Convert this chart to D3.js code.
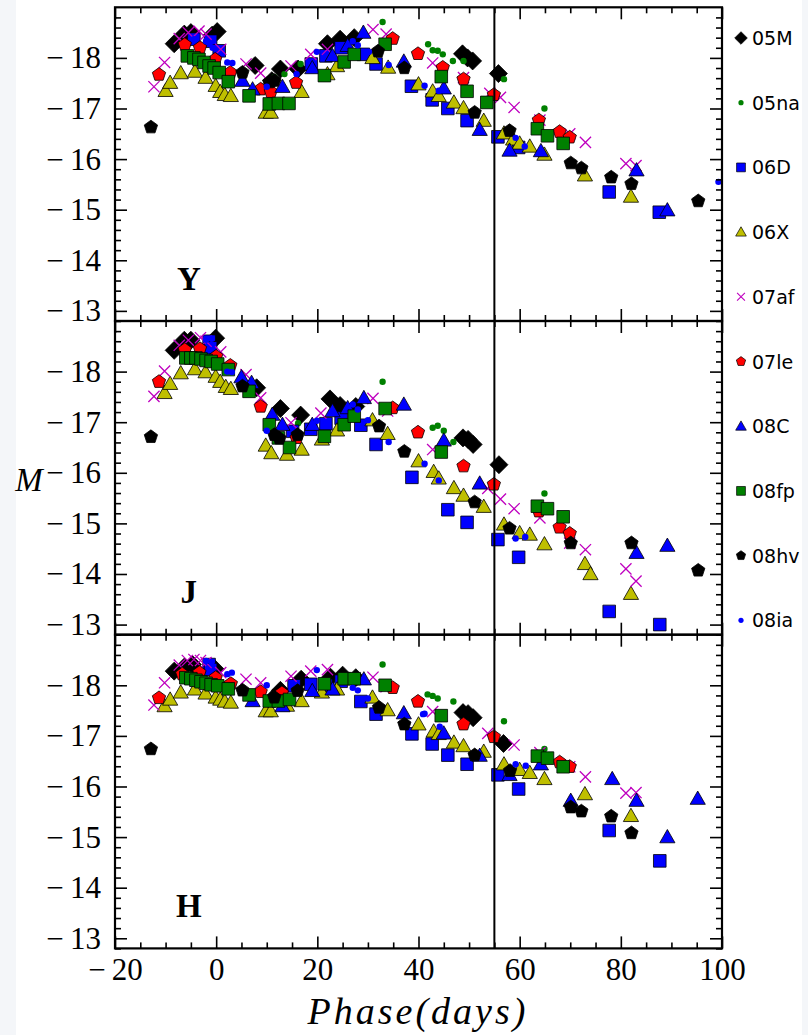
<!DOCTYPE html>
<html><head><meta charset="utf-8">
<script src="https://cdn.jsdelivr.net/npm/d3@7"></script>
<style>
html,body{margin:0;padding:0;background:#f4f6f9;}
svg{display:block;}
</style></head>
<body>
<svg id="chart" width="808" height="1035"></svg>
<script>
// ---------- data ----------
const bands = ["Y", "J", "H"];
const snNames = ["05M","05na","06D","06X","07af","07le","08C","08fp","08hv","08ia"];
const xTicks = [-20, 0, 20, 40, 60, 80, 100];
const yTicks = [-18, -17, -16, -15, -14, -13];
const splitPhase = 55;

// Y band
const Y_05M = [[-8.3,-18.28],[-6.3,-18.47],[-5.0,-18.5],[-0.8,-18.45],[0.2,-18.52],[7.7,-17.85],[11.0,-17.55],[12.7,-17.78],[16.2,-17.78],[22.0,-18.28],[24.5,-18.37],[27.3,-18.4],[48.7,-18.08],[49.7,-18.0],[50.7,-17.94],[55.8,-17.69]];
const Y_05na = [[11.5,-17.62],[13.5,-17.68],[16.7,-17.88],[32.9,-18.71],[41.9,-18.27],[42.8,-18.15],[43.8,-18.14],[44.8,-18.07],[46.8,-17.94],[48.9,-17.94],[56.9,-17.58],[64.9,-17.0]];
const Y_06D = [[-4.4,-18.37],[-1.1,-18.33],[0.6,-18.14],[18.8,-17.88],[21.7,-18.04],[24.7,-18.2],[29.1,-18.07],[31.6,-17.88],[38.6,-17.44],[42.7,-17.17],[45.8,-17.0],[49.6,-16.76],[55.7,-16.44],[59.8,-16.23],[77.7,-15.35],[87.6,-14.95]];
const Y_06X = [[-10,-17.35],[-9.1,-17.51],[-7,-17.7],[-4.2,-17.73],[-2.1,-17.61],[-0.1,-17.45],[0.8,-17.33],[1.7,-17.27],[2.9,-17.25],[9.8,-16.92],[10.8,-16.92],[16.9,-17.33],[22,-17.68],[23.9,-17.84],[30.9,-18.0],[34,-17.81],[40,-17.48],[42.8,-17.34],[44,-17.25],[47,-17.12],[48.9,-17.01],[52.9,-16.76],[56.9,-16.51],[58.7,-16.39],[60,-16.31],[62,-16.25],[64.9,-16.09],[72.9,-15.68],[82,-15.26]];
const Y_07af = [[-12.3,-17.43],[-10.2,-17.91],[-7.3,-18.38],[-5.5,-18.5],[-3.4,-18.53],[-2.0,-18.47],[0.9,-18.17],[5.9,-17.88],[8.8,-17.7],[14.8,-17.84],[18.7,-18.07],[22,-18.17],[31,-18.56],[33.6,-18.47],[42.8,-17.9],[48.9,-17.61],[54.1,-17.3],[56.2,-17.22],[58.9,-17.02],[64,-16.77],[69.9,-16.5],[73,-16.33],[81,-15.91],[83,-15.87]];
const Y_07le = [[-11.3,-17.67],[-6.2,-18.26],[-3.2,-18.2],[-0.2,-17.97],[2.8,-17.71],[8.8,-17.38],[10.8,-17.33],[15.8,-17.51],[34.9,-18.38],[39.9,-18.08],[44.8,-17.81],[48.9,-17.58],[54.9,-17.27],[63.8,-16.77],[67.9,-16.54],[69.9,-16.43]];
const Y_08C = [[5.2,-17.55],[7.2,-17.38],[13.1,-17.43],[19,-17.8],[23,-18.04],[26,-18.24],[29.1,-18.5],[37.1,-17.93],[45,-17.4],[52.1,-16.58],[58,-16.17],[64.2,-16.16],[83.1,-15.78],[89.2,-14.99]];
const Y_08fp = [[-5.7,-18.04],[-4.4,-18.0],[-3.4,-17.97],[-2.4,-17.91],[-1.4,-17.84],[-0.4,-17.8],[0.6,-17.71],[2.4,-17.53],[6.5,-17.25],[10.5,-17.09],[12.3,-17.1],[14.4,-17.1],[21.4,-17.65],[25.3,-17.92],[27.3,-18.07],[33.4,-18.27],[44.5,-17.63],[49.6,-17.34],[53.5,-17.12],[63.5,-16.6],[65.5,-16.46],[68.6,-16.31]];
const Y_08hv = [[-12.9,-16.63],[5.2,-17.71],[10.5,-17.52],[11.5,-17.55],[32,-18.13],[37.2,-17.8],[51.1,-16.92],[58,-16.56],[70.1,-15.92],[72.2,-15.82],[78.1,-15.64],[82.1,-15.51],[95.3,-15.17]];
const Y_08ia = [[-4.4,-18.37],[-2.0,-18.33],[-0.7,-18.2],[2.2,-17.91],[3.2,-17.9],[10.0,-17.43],[15.9,-17.68],[19.9,-18.12],[27,-18.33],[28,-18.25],[30.2,-18.12],[34.1,-17.86],[41.2,-17.45],[44,-17.35],[59.2,-16.42],[61,-16.25],[99.3,-15.55]];

// J band
const J_05M = [[-8.3,-18.42],[-6.3,-18.62],[-5,-18.62],[-0.1,-18.66],[8.0,-17.68],[12.7,-17.27],[16.7,-17.14],[22.5,-17.46],[24.5,-17.33],[27.6,-17.31],[48.8,-16.69],[49.8,-16.66],[50.8,-16.56],[55.9,-16.16]];
const J_05na = [[12.8,-16.95],[16.2,-16.98],[32.9,-17.8],[42.8,-16.89],[43.8,-16.93],[45,-16.83],[46.9,-16.61],[64.9,-15.59]];
const J_06D = [[-1.4,-18.6],[-1.1,-18.47],[15.1,-16.82],[18.7,-16.86],[21.7,-16.97],[24.7,-17.08],[28.6,-16.94],[31.6,-16.56],[38.7,-15.91],[45.8,-15.27],[49.6,-15.02],[55.7,-14.68],[59.8,-14.33],[77.7,-13.26],[87.7,-13.0]];
const J_06X = [[-10.2,-17.58],[-9.1,-17.76],[-7,-17.97],[-4.2,-18.05],[-2.1,-17.99],[-0.1,-17.9],[0.8,-17.8],[1.9,-17.7],[2.9,-17.66],[9.8,-16.54],[10.9,-16.39],[14,-16.36],[16.9,-16.46],[20.9,-16.66],[23.9,-16.84],[30.9,-17.04],[33.9,-16.77],[40,-16.23],[43,-16.02],[44,-15.89],[47,-15.7],[48.9,-15.55],[52.9,-15.33],[56.9,-14.98],[60,-14.81],[62,-14.78],[64.9,-14.59],[72.9,-14.2],[74,-14.0],[82,-13.61]];
const J_07af = [[-12.3,-17.51],[-10.2,-18.01],[-7.3,-18.52],[-5.5,-18.62],[-3.1,-18.67],[-2,-18.6],[0.9,-18.39],[5.9,-17.94],[8.8,-17.48],[14.8,-16.99],[20.7,-17.18],[31,-17.47],[33.9,-17.22],[42.8,-16.46],[53.7,-15.69],[56.2,-15.48],[58.9,-15.29],[64,-15.11],[69.9,-14.61],[73,-14.48],[81,-14.1],[83,-13.86]];
const J_07le = [[-11.3,-17.8],[-6.2,-18.43],[-3.2,-18.45],[0,-18.3],[2.8,-18.12],[8.8,-17.31],[15.9,-16.69],[34.9,-17.28],[39.9,-16.8],[48.9,-16.13],[54.9,-15.77],[63.8,-15.24],[67.9,-14.92],[69.9,-14.8]];
const J_08C = [[5,-17.89],[7,-17.78],[11.1,-17.15],[13.1,-16.95],[19,-16.95],[23,-17.22],[26,-17.28],[29.2,-17.48],[37.1,-17.35],[45,-16.64],[52.1,-15.79],[83.1,-14.42],[89.2,-14.56]];
const J_08fp = [[-6,-18.27],[-5,-18.27],[-4,-18.27],[-3,-18.25],[-2,-18.22],[-1,-18.2],[0.3,-18.15],[2.4,-18.04],[6.5,-17.61],[10.5,-16.95],[12.3,-16.69],[14.5,-16.5],[21.4,-16.72],[25.3,-16.95],[27.3,-17.12],[33.4,-17.27],[44.5,-16.41],[63.5,-15.34],[65.5,-15.29],[68.6,-15.13]];
const J_08hv = [[-12.9,-16.71],[5.2,-17.71],[11.5,-16.75],[12.5,-16.68],[16.1,-16.75],[32.2,-16.92],[37.2,-16.42],[51.1,-15.42],[58,-14.9],[70.1,-14.61],[82.1,-14.61],[95.3,-14.07]];
const J_08ia = [[-2,-18.63],[-0.9,-18.65],[2.2,-18.0],[3.1,-17.99],[10,-16.83],[19.9,-17.03],[27,-17.35],[28,-17.25],[30,-17.04],[34.1,-16.61],[41.2,-16.18],[44,-15.85],[59.2,-14.7],[61.1,-14.73]];

// H band
const H_05M = [[-8.3,-18.28],[-6.3,-18.36],[-4.7,-18.41],[-0.2,-18.32],[11.3,-17.75],[12.7,-17.9],[16.8,-18.12],[22.6,-18.16],[25,-18.2],[27.6,-18.15],[48.8,-17.46],[49.8,-17.44],[50.8,-17.36],[56.8,-16.85]];
const H_05na = [[13.5,-17.85],[32.9,-18.41],[41.8,-17.82],[42.8,-17.79],[43.8,-17.74],[46.9,-17.68],[56.9,-17.29],[64.9,-16.74]];
const H_06D = [[-1.4,-18.41],[-1.1,-18.31],[15.4,-17.99],[18.7,-18.02],[21.7,-18.0],[24.7,-18.08],[28.6,-17.68],[31.6,-17.43],[38.7,-17.04],[42.7,-16.84],[45.8,-16.62],[49.6,-16.44],[55.7,-16.23],[59.8,-15.95],[77.7,-15.13],[87.7,-14.53]];
const H_06X = [[-10.2,-17.59],[-9.1,-17.72],[-7,-17.86],[-4.2,-17.92],[-2.1,-17.84],[-0.1,-17.76],[0.8,-17.72],[1.7,-17.68],[2.9,-17.66],[9.8,-17.49],[10.8,-17.49],[14,-17.6],[16.9,-17.69],[20.9,-17.86],[23.9,-17.92],[30.9,-17.76],[33.9,-17.51],[40,-17.23],[43,-17.09],[44,-17.04],[47,-16.87],[48.9,-16.8],[52.9,-16.69],[56.9,-16.44],[60,-16.33],[62,-16.27],[64.9,-16.15],[72.9,-15.85],[82,-15.42]];
const H_07af = [[-12.3,-17.61],[-10.2,-18.05],[-7.3,-18.4],[-5.7,-18.49],[-4.4,-18.51],[-3.1,-18.49],[-2,-18.45],[0.9,-18.25],[5.9,-18.12],[8.8,-18.05],[14.8,-18.18],[18.7,-18.28],[22,-18.31],[31,-18.16],[33.6,-17.97],[42.8,-17.48],[53.7,-17.05],[58.9,-16.82],[64,-16.67],[69.9,-16.39],[73,-16.19],[81,-15.87],[83,-15.88]];
const H_07le = [[-11.3,-17.75],[-6.7,-18.22],[-3.3,-18.25],[-0.1,-18.15],[2.9,-18.03],[8.8,-17.87],[13,-17.85],[34.9,-17.95],[39.9,-17.68],[48.9,-17.23],[54.9,-16.98],[67.9,-16.48],[69.9,-16.39]];
const H_08C = [[7.2,-17.69],[13.1,-17.59],[19,-17.89],[23,-17.92],[29.2,-18.12],[37.1,-17.45],[45,-17.05],[52.1,-16.61],[58,-16.23],[64.2,-16.44],[70.1,-15.72],[78.3,-16.15],[83.1,-15.72],[89.2,-15.0],[95.2,-15.76]];
const H_08fp = [[-6,-18.15],[-5,-18.13],[-4,-18.1],[-3,-18.07],[-2,-18.04],[-1,-18.01],[0.3,-17.99],[2.4,-17.93],[6.5,-17.81],[10.5,-17.69],[12.3,-17.69],[14.5,-17.72],[21.4,-18.03],[25.3,-18.13],[27.3,-18.13],[33.4,-18.0],[44.5,-17.4],[63.5,-16.6],[65.5,-16.56],[68.6,-16.39]];
const H_08hv = [[-12.9,-16.74],[5.2,-17.9],[11.5,-17.76],[16.1,-17.89],[32.2,-17.56],[37.2,-17.23],[51.1,-16.62],[58.1,-16.31],[70.1,-15.59],[72.2,-15.51],[78.1,-15.41],[82.1,-15.08]];
const H_08ia = [[-2,-18.48],[-0.9,-18.46],[2.2,-18.22],[3.1,-18.25],[10,-18.0],[19.9,-18.3],[27,-17.95],[28,-17.9],[30,-17.74],[40.9,-17.43],[41.2,-17.44],[44.2,-17.18],[59.2,-16.44],[61.2,-16.41]];

const bandData = {
  Y: [Y_05M, Y_05na, Y_06D, Y_06X, Y_07af, Y_07le, Y_08C, Y_08fp, Y_08hv, Y_08ia],
  J: [J_05M, J_05na, J_06D, J_06X, J_07af, J_07le, J_08C, J_08fp, J_08hv, J_08ia],
  H: [H_05M, H_05na, H_06D, H_06X, H_07af, H_07le, H_08C, H_08fp, H_08hv, H_08ia]
};

// ---------- styles ----------
const markerStyle = [
  {shape:"diamond",  fill:"#000000", stroke:"#000000", r:9},
  {shape:"dot",      fill:"#008000", stroke:"none",    r:3.2},
  {shape:"square",   fill:"#0000ff", stroke:"#000000", r:6.3},
  {shape:"triangle", fill:"#bfbf00", stroke:"#000000", r:7.6},
  {shape:"x",        fill:"none",    stroke:"#bf00bf", r:5.6},
  {shape:"pentagon", fill:"#ff0000", stroke:"#000000", r:7},
  {shape:"triangle", fill:"#0000ff", stroke:"#000000", r:7.6},
  {shape:"square",   fill:"#008000", stroke:"#000000", r:6.3},
  {shape:"pentagon", fill:"#000000", stroke:"#000000", r:7},
  {shape:"dot",      fill:"#0000ff", stroke:"none",    r:3.2}
];

function shapePath(shape, r){
  switch(shape){
    case "diamond": return `M0,${-r}L${r},0L0,${r}L${-r},0Z`;
    case "square": return `M${-r},${-r}H${r}V${r}H${-r}Z`;
    case "triangle": {
      const h = r*0.75;
      return `M0,${-r}L${r},${h}L${-r},${h}Z`;
    }
    case "x": return `M${-r},${-r}L${r},${r}M${-r},${r}L${r},${-r}`;
    case "pentagon": {
      let d = "";
      for(let k=0;k<5;k++){
        const a = -Math.PI/2 + k*2*Math.PI/5;
        d += (k?"L":"M") + (r*Math.cos(a)).toFixed(2) + "," + (r*Math.sin(a)).toFixed(2);
      }
      return d+"Z";
    }
    case "dot": return d3.arc()({innerRadius:0,outerRadius:r,startAngle:0,endAngle:2*Math.PI});
  }
}

// ---------- layout ----------
const svg = d3.select("#chart");
svg.append("rect").attr("x",16).attr("y",0).attr("width",786).attr("height",1035).attr("fill","#ffffff");

const left = 115, right = 722;
const panelTop0 = 7.3, panelH = 313.7;
const x = d3.scaleLinear().domain([-20,100]).range([left,right]);
const serif = "'Liberation Serif','Times New Roman',serif";
const fmt = d => d < 0 ? "\u2212\u2009" + Math.abs(d) : String(d);

const minorY = d3.range(-19, -12.79, 0.2).map(v=>+v.toFixed(1)).filter(v=>Math.abs(v-Math.round(v))>1e-6);
const minorX = d3.range(-20, 101, 5).filter(v=>!xTicks.includes(v));

bands.forEach((band, bi) => {
  const top = panelTop0 + bi*panelH;
  const y = d3.scaleLinear().domain([-19,-12.8]).range([top, top+panelH]);
  const g = svg.append("g");

  const clipId = "clip"+band;
  svg.append("clipPath").attr("id",clipId).append("rect")
    .attr("x",left).attr("y",top).attr("width",right-left).attr("height",panelH);
  const pg = g.append("g").attr("clip-path",`url(#${clipId})`);
  bandData[band].forEach((series, si) => {
    const st = markerStyle[si];
    pg.append("g").selectAll("path").data(series).join("path")
      .attr("transform", d => `translate(${x(d[0])},${y(d[1])})`)
      .attr("d", shapePath(st.shape, st.r))
      .attr("fill", st.fill)
      .attr("stroke", st.stroke)
      .attr("stroke-width", st.shape==="x" ? 1.3 : 0.8);
  });

  const styleAxis = sel => {
    sel.select(".domain").remove();
    sel.selectAll("line").attr("stroke","#000").attr("stroke-width",1.6);
    sel.selectAll("text").attr("font-family",serif).attr("font-size",31).attr("fill","#000");
  };
  g.append("g").attr("transform",`translate(${left},0)`)
    .call(d3.axisLeft(y).tickValues(yTicks).tickSize(-12).tickPadding(14).tickFormat(fmt))
    .call(styleAxis);
  g.append("g").attr("transform",`translate(${left},0)`)
    .call(d3.axisLeft(y).tickValues(minorY).tickSize(-6).tickFormat(""))
    .call(styleAxis);
  g.append("g").attr("transform",`translate(${right},0)`)
    .call(d3.axisRight(y).tickValues(yTicks).tickSize(-12).tickFormat(""))
    .call(styleAxis);
  g.append("g").attr("transform",`translate(${right},0)`)
    .call(d3.axisRight(y).tickValues(minorY).tickSize(-6).tickFormat(""))
    .call(styleAxis);
  g.append("g").attr("transform",`translate(0,${top})`)
    .call(d3.axisTop(x).tickValues(xTicks).tickSize(-12).tickFormat(""))
    .call(styleAxis);
  g.append("g").attr("transform",`translate(0,${top})`)
    .call(d3.axisTop(x).tickValues(minorX).tickSize(-6).tickFormat(""))
    .call(styleAxis);
  g.append("g").attr("transform",`translate(0,${top+panelH})`)
    .call(d3.axisBottom(x).tickValues(xTicks).tickSize(-12).tickPadding(10)
      .tickFormat(bi===bands.length-1 ? fmt : ""))
    .call(styleAxis);
  g.append("g").attr("transform",`translate(0,${top+panelH})`)
    .call(d3.axisBottom(x).tickValues(minorX).tickSize(-6).tickFormat(""))
    .call(styleAxis);

  g.append("rect").attr("x",left).attr("y",top).attr("width",right-left).attr("height",panelH)
    .attr("fill","none").attr("stroke","#000").attr("stroke-width",2.2);

  g.append("text").attr("x",x(-5.4)).attr("y",y(-13.5)+4)
    .attr("text-anchor","middle").attr("font-family",serif).attr("font-weight","bold")
    .attr("font-size",33).text(band);
});

svg.append("line").attr("x1",x(splitPhase)).attr("x2",x(splitPhase))
  .attr("y1",panelTop0).attr("y2",panelTop0+3*panelH)
  .attr("stroke","#000").attr("stroke-width",2);

svg.append("text").attr("x",29).attr("y",491).attr("text-anchor","middle")
  .attr("font-family",serif).attr("font-style","italic").attr("font-size",33).text("M");
svg.append("text").attr("x",418).attr("y",1024).attr("text-anchor","middle")
  .attr("font-family",serif).attr("font-style","italic").attr("font-size",38)
  .attr("letter-spacing",3).text("Phase(days)");

const legY0 = 38, legStep = 64.7;
const leg = svg.append("g");
snNames.forEach((name, i) => {
  const st = markerStyle[i];
  const yy = legY0 + i*legStep;
  leg.append("path").attr("transform",`translate(741,${yy})`)
    .attr("d", shapePath(st.shape, st.shape==="dot" ? 2.6 : st.r*0.7))
    .attr("fill", st.fill).attr("stroke", st.stroke)
    .attr("stroke-width", st.shape==="x" ? 1.1 : 0.7);
  leg.append("text").attr("x",752).attr("y",yy+7)
    .attr("font-family","'DejaVu Sans',sans-serif").attr("font-size",19).text(name);
});
</script>
</body></html>
